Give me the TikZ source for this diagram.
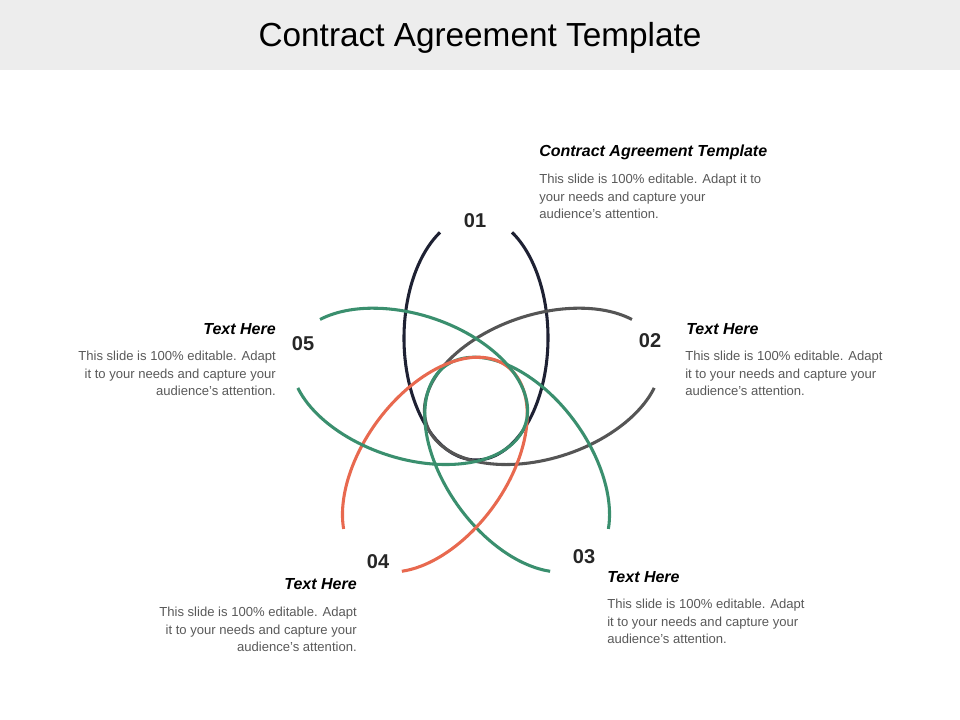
\documentclass[tikz,border=0pt]{standalone}
\usepackage{fontspec}
\setmainfont{Liberation Sans}
\usetikzlibrary{calc}
\definecolor{navy}{HTML}{1E2133}
\definecolor{dgray}{HTML}{555555}
\definecolor{grn}{HTML}{3A8F6E}
\definecolor{org}{HTML}{E8694F}
\definecolor{body}{HTML}{595959}
\tikzset{
 loop/.style={line width=2.3pt},
 num/.style={font=\bfseries\fontsize{15}{18}\selectfont,text=black!85},
 head/.style={font=\bfseries\itshape\fontsize{12}{14}\selectfont,inner sep=0pt},
 bodyl/.style={font=\fontsize{9.8}{13.2}\selectfont,text=body,align=left,inner sep=0pt},
 bodyr/.style={font=\fontsize{9.8}{13.2}\selectfont,text=body,align=right,inner sep=0pt},
}
\begin{document}
\begin{tikzpicture}[x=0.75pt,y=0.75pt]
\useasboundingbox (0,0) rectangle (960,720);
\fill[black!7] (0,650) rectangle (960,720);
\node[font=\fontsize{25}{30}\selectfont] (title) at (480,682) {Contract Agreement Template};
\coordinate (C) at (476,312);
\foreach \ang/\col in {90/navy,18/dgray,-54/grn,-126/org,162/grn}{
 \begin{scope}[shift={($(C)+(\ang:52.5pt)$)},rotate=\ang]
  \draw[loop,\col] (30:91.5pt and 54pt) arc[start angle=30,end angle=330,x radius=91.5pt,y radius=54pt];
 \end{scope}}
\node[num] (n1) at (475,499) {01};
\node[num] (n2) at (650,379) {02};
\node[num] (n3) at (584,163) {03};
\node[num] (n4) at (378,158) {04};
\node[num] (n5) at (303,376) {05};
\node[head,anchor=west] (h1) at (539,568) {Contract Agreement Template};
\node[bodyl,anchor=north west] (b1) at (539,546) {This slide is 100\% editable. Adapt it to\\your needs and capture your\\audience’s attention.};
\node[head,anchor=west] (h2) at (686,391) {Text Here};
\node[bodyl,anchor=north west] (b2) at (685,369) {This slide is 100\% editable. Adapt\\it to your needs and capture your\\audience’s attention.};
\node[head,anchor=east] (h5) at (276,391) {Text Here};
\node[bodyr,anchor=north east] (b5) at (276,369) {This slide is 100\% editable. Adapt\\it to your needs and capture your\\audience’s attention.};
\node[head,anchor=east] (h4) at (357,136) {Text Here};
\node[bodyr,anchor=north east] (b4) at (357,113) {This slide is 100\% editable. Adapt\\it to your needs and capture your\\audience’s attention.};
\node[head,anchor=west] (h3) at (607,143) {Text Here};
\node[bodyl,anchor=north west] (b3) at (607,121) {This slide is 100\% editable. Adapt\\it to your needs and capture your\\audience’s attention.};
\end{tikzpicture}
\end{document}
